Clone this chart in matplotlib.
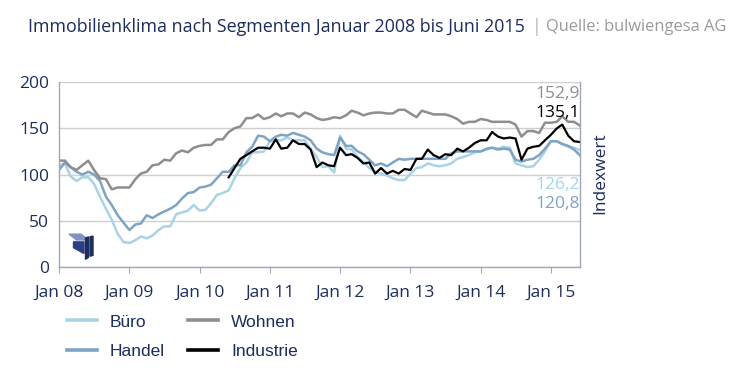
import pandas as pd
import matplotlib.pyplot as plt
from matplotlib.patches import Polygon

# ── Data (monthly index values, Jan 2008 – Jun 2015) ─────────────────────────
months = pd.date_range("2008-01-01", periods=90, freq="MS")

buero = [110, 112, 98, 93, 97, 97, 90, 76, 63, 51,
         36, 27, 26, 29, 33, 31, 34, 40, 44, 44,
         57, 59, 61, 67, 61, 62, 69, 78, 80, 83,
         96, 107, 113, 124, 124, 125, 136, 137, 137, 140,
         137, 137, 137, 128, 119, 108, 109, 102, 142, 128,
         127, 119, 114, 107, 103, 101, 99, 96, 94, 94,
         101, 107, 108, 112, 110, 109, 110, 112, 117, 119,
         121, 124, 125, 127, 129, 128, 130, 129, 112, 110,
         108, 109, 116, 125, 136, 136, 133, 130, 129, 126.2]

handel = [105, 113, 108, 103, 100, 103, 100, 93, 76, 67,
          56, 48, 40, 46, 47, 56, 53, 57, 60, 63,
          67, 74, 80, 81, 86, 87, 89, 96, 103, 103,
          110, 110, 124, 130, 142, 141, 136, 141, 143, 142,
          145, 143, 141, 137, 128, 124, 122, 121, 140, 131,
          131, 125, 122, 116, 110, 112, 109, 113, 117, 116,
          117, 117, 117, 117, 117, 117, 117, 123, 125, 125,
          125, 125, 125, 128, 129, 127, 128, 127, 116, 114,
          116, 117, 121, 128, 136, 136, 133, 131, 127, 120.8]

wohnen = [115, 115, 108, 105, 110, 115, 105, 96, 95, 84,
          86, 86, 86, 95, 101, 103, 110, 111, 116, 115,
          123, 126, 124, 129, 131, 132, 132, 138, 138, 146,
          150, 152, 161, 161, 165, 160, 162, 166, 163, 166,
          166, 162, 167, 165, 161, 159, 160, 162, 161, 164,
          169, 167, 164, 166, 167, 167, 166, 166, 170, 170,
          166, 162, 169, 167, 165, 165, 165, 163, 160, 155,
          157, 157, 160, 159, 157, 157, 157, 157, 154, 141,
          147, 147, 145, 156, 156, 157, 163, 157, 157, 152.9]

industrie = [None] * 29 + [
    97, 107, 117, 121, 125, 129, 129, 128, 138, 128,
    129, 137, 133, 133, 127, 108, 113, 110, 109, 129,
    121, 122, 118, 112, 113, 101, 107, 101, 104, 101,
    106, 105, 117, 117, 127, 121, 118, 122, 121, 128,
    125, 129, 134, 137, 137, 146, 141, 139, 140, 139,
    116, 128, 130, 131, 137, 143, 150, 154, 142, 136,
    135.1]

end_labels = ["152,9", "135,1", "126,2", "120,8"]
year_labels = ["Jan 08", "Jan 09", "Jan 10", "Jan 11",
               "Jan 12", "Jan 13", "Jan 14", "Jan 15"]

# ── Style ────────────────────────────────────────────────────────────────────
NAVY = "#1c2d5e"
C_BUERO = "#a9d3e6"
C_HANDEL = "#7fa3c2"
C_WOHNEN = "#8e8e8e"
C_IND = "#000000"
AXIS = "#9ea8b8"

plt.rcParams["font.family"] = ["Open Sans", "DejaVu Sans"]

fig = plt.figure(figsize=(7.5, 3.87), dpi=100)
ax = fig.add_axes([0.0787, 0.31, 0.6946, 0.478])

df = pd.DataFrame({"buero": buero, "handel": handel,
                   "wohnen": wohnen, "industrie": industrie}, index=months)
df = df.astype(float)

ax.plot(df.index, df["buero"], color=C_BUERO, lw=1.8, label="Büro")
ax.plot(df.index, df["handel"], color=C_HANDEL, lw=1.8, label="Handel")
ax.plot(df.index, df["wohnen"], color=C_WOHNEN, lw=1.8, label="Wohnen")
ax.plot(df.index, df["industrie"], color=C_IND, lw=1.6, label="Industrie")

ax.set_xlim(months[0], months[-1])
ax.set_ylim(0, 200)
ax.set_yticks([0, 50, 100, 150, 200])
ax.set_xticks([pd.Timestamp(f"{y}-01-01") for y in range(2008, 2016)])
ax.set_xticklabels(year_labels)

ax.grid(axis="y", color="#cfcfcf", lw=1)
ax.set_axisbelow(True)
for s in ["left", "right", "bottom"]:
    ax.spines[s].set_color(AXIS)
    ax.spines[s].set_linewidth(1)
ax.spines["top"].set_visible(False)

ax.tick_params(axis="y", length=0, pad=7, labelsize=12.5, labelcolor=NAVY)
ax.tick_params(axis="x", length=4, color=AXIS, pad=9, labelsize=12.5,
               labelcolor=NAVY)

# end-value labels
last = months[-1]
ax.text(last, 187, end_labels[0], color=C_WOHNEN, ha="right", va="center",
        fontsize=12.5)
ax.text(last, 167, end_labels[1], color=C_IND, ha="right", va="center",
        fontsize=12.5)
ax.text(last, 89, end_labels[2], color=C_BUERO, ha="right", va="center",
        fontsize=12.5)
ax.text(last, 68, end_labels[3], color=C_HANDEL, ha="right", va="center",
        fontsize=12.5)

fig.text(0.801, 0.553, "Indexwert", rotation=90, color=NAVY, ha="center",
         va="center", fontsize=12.5)

# title
fig.text(0.038, 0.93, "Immobilienklima nach Segmenten Januar 2008 bis Juni 2015",
         color=NAVY, fontsize=12.9, va="center")
fig.text(0.709, 0.93, "|", color="#b8b8b8", fontsize=12.9, va="center")
fig.text(0.728, 0.93, "Quelle: bulwiengesa AG", color="#9a9a9a",
         fontsize=11.9, va="center")

# small logo mark
logo = [
    [(0.092, 0.395), (0.108, 0.395), (0.118, 0.380), (0.102, 0.380)],
    [(0.098, 0.375), (0.112, 0.375), (0.112, 0.345), (0.098, 0.360)],
    [(0.114, 0.385), (0.118, 0.388), (0.118, 0.335), (0.114, 0.330)],
    [(0.120, 0.388), (0.124, 0.390), (0.124, 0.340), (0.120, 0.338)],
]
for i, pts in enumerate(logo):
    fig.patches.append(Polygon(pts, closed=True, transform=fig.transFigure,
                               color=["#7f93c0", "#2b3f86", "#1c2d5e", "#1c2d5e"][i]))

# legend
leg = fig.legend(handles=ax.lines, labels=["Büro", "Handel", "Wohnen", "Industrie"],
                 loc="upper left", bbox_to_anchor=(0.068, 0.228), ncol=2,
                 frameon=False, handlelength=1.75, handletextpad=0.75,
                 columnspacing=1.3, labelspacing=0.85,
                 prop={"family": "Liberation Sans", "size": 12.5})
for h in leg.legend_handles:
    h.set_linewidth(2.6)
for t in leg.get_texts():
    t.set_color(NAVY)

fig.savefig("out.png", dpi=100)
